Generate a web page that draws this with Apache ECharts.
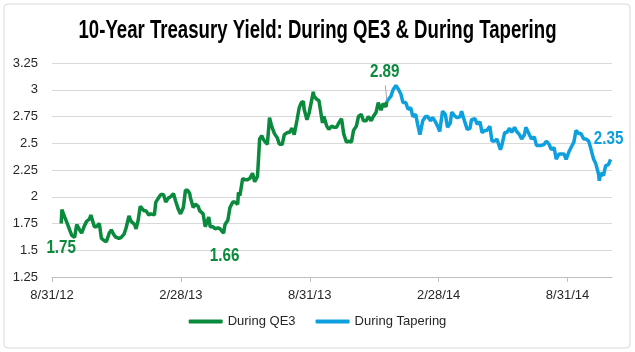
<!DOCTYPE html>
<html>
<head>
<meta charset="utf-8">
<script src="https://cdn.jsdelivr.net/npm/echarts@6/dist/echarts.min.js"></script>
<style>
  html, body { margin: 0; padding: 0; background: #fff; }
  #chart { width: 635px; height: 352px; }
</style>
</head>
<body>
<div id="chart"></div>
<script>
// 10年期国债收益率（日期 + 数值）
const qe3Dates = [
  '2012-09-13','2012-09-14','2012-09-18','2012-09-21','2012-09-25','2012-09-28','2012-10-02','2012-10-05',
  '2012-10-10','2012-10-12','2012-10-16','2012-10-19','2012-10-23','2012-10-25','2012-10-30','2012-11-02',
  '2012-11-06','2012-11-09','2012-11-13','2012-11-16','2012-11-20','2012-11-23','2012-11-27','2012-11-30',
  '2012-12-04','2012-12-07','2012-12-11','2012-12-14','2012-12-18','2012-12-21','2012-12-26','2012-12-28',
  '2012-12-31','2013-01-03','2013-01-08','2013-01-11','2013-01-15','2013-01-18','2013-01-23','2013-01-25',
  '2013-01-29','2013-02-01','2013-02-05','2013-02-08','2013-02-12','2013-02-15','2013-02-19','2013-02-22',
  '2013-02-26','2013-02-28','2013-03-01','2013-03-05','2013-03-08','2013-03-11','2013-03-14','2013-03-15',
  '2013-03-19','2013-03-22','2013-03-26','2013-03-28','2013-04-02','2013-04-05','2013-04-10','2013-04-12',
  '2013-04-16','2013-04-19','2013-04-23','2013-04-26','2013-05-01','2013-05-03','2013-05-07','2013-05-10',
  '2013-05-14','2013-05-17','2013-05-21','2013-05-22','2013-05-24','2013-05-28','2013-05-31','2013-06-04',
  '2013-06-07','2013-06-11','2013-06-14','2013-06-18','2013-06-20','2013-06-21','2013-06-24','2013-06-26',
  '2013-06-28','2013-07-02','2013-07-05','2013-07-08','2013-07-12','2013-07-16','2013-07-19','2013-07-23',
  '2013-07-26','2013-07-30','2013-08-02','2013-08-06','2013-08-09','2013-08-13','2013-08-16','2013-08-19',
  '2013-08-22','2013-08-23','2013-08-27','2013-08-30','2013-09-05','2013-09-06','2013-09-10','2013-09-13',
  '2013-09-18','2013-09-20','2013-09-24','2013-09-27','2013-10-01','2013-10-04','2013-10-08','2013-10-11',
  '2013-10-15','2013-10-18','2013-10-22','2013-10-25','2013-10-29','2013-11-01','2013-11-05','2013-11-08',
  '2013-11-12','2013-11-15','2013-11-19','2013-11-22','2013-11-26','2013-11-29','2013-12-03','2013-12-06',
  '2013-12-10','2013-12-13','2013-12-17','2013-12-18'
];
const qe3Values = [
  1.75, 1.88, 1.81, 1.76, 1.69, 1.64, 1.62, 1.74,
  1.68, 1.66, 1.73, 1.77, 1.79, 1.83, 1.72, 1.72,
  1.75, 1.61, 1.59, 1.58, 1.66, 1.69, 1.64, 1.62,
  1.61, 1.62, 1.65, 1.71, 1.82, 1.77, 1.74, 1.70,
  1.78, 1.91, 1.87, 1.87, 1.83, 1.84, 1.83, 1.95,
  1.99, 2.02, 2.02, 1.95, 1.99, 2.00, 2.03, 1.96,
  1.88, 1.89, 1.84, 1.90, 2.06, 2.06, 2.03, 1.99,
  1.90, 1.93, 1.91, 1.87, 1.84, 1.72, 1.81, 1.72,
  1.72, 1.70, 1.71, 1.70, 1.66, 1.74, 1.78, 1.90,
  1.95, 1.95, 1.93, 2.04, 2.01, 2.17, 2.16, 2.16,
  2.17, 2.22, 2.14, 2.19, 2.42, 2.54, 2.57, 2.54,
  2.52, 2.49, 2.74, 2.66, 2.59, 2.55, 2.49, 2.49,
  2.58, 2.60, 2.60, 2.64, 2.58, 2.72, 2.83, 2.88,
  2.89, 2.82, 2.72, 2.78, 2.98, 2.94, 2.91, 2.90,
  2.69, 2.75, 2.66, 2.63, 2.66, 2.65, 2.65, 2.69,
  2.73, 2.59, 2.51, 2.52, 2.51, 2.62, 2.66, 2.75,
  2.77, 2.71, 2.71, 2.75, 2.71, 2.75, 2.79, 2.88,
  2.81, 2.87, 2.84, 2.89
];
const taperDates = [
  '2013-12-18','2013-12-20','2013-12-24','2013-12-27','2013-12-31','2014-01-03','2014-01-07','2014-01-09',
  '2014-01-10','2014-01-14','2014-01-17','2014-01-21','2014-01-24','2014-01-28','2014-01-31','2014-02-03',
  '2014-02-07','2014-02-11','2014-02-14','2014-02-18','2014-02-21','2014-02-25','2014-02-28','2014-03-03',
  '2014-03-07','2014-03-11','2014-03-14','2014-03-18','2014-03-20','2014-03-25','2014-03-28','2014-04-01',
  '2014-04-03','2014-04-08','2014-04-11','2014-04-15','2014-04-17','2014-04-22','2014-04-25','2014-04-29',
  '2014-05-02','2014-05-06','2014-05-09','2014-05-13','2014-05-16','2014-05-20','2014-05-23','2014-05-28',
  '2014-05-30','2014-06-03','2014-06-06','2014-06-10','2014-06-13','2014-06-17','2014-06-20','2014-06-24',
  '2014-06-27','2014-07-01','2014-07-03','2014-07-08','2014-07-11','2014-07-15','2014-07-18','2014-07-22',
  '2014-07-25','2014-07-29','2014-08-01','2014-08-05','2014-08-08','2014-08-12','2014-08-15','2014-08-19',
  '2014-08-22','2014-08-26','2014-08-29','2014-09-02','2014-09-05','2014-09-09','2014-09-12','2014-09-16',
  '2014-09-19','2014-09-23','2014-09-26','2014-09-30','2014-10-03','2014-10-07','2014-10-10','2014-10-14',
  '2014-10-15','2014-10-17','2014-10-21','2014-10-24','2014-10-28','2014-10-31'
];
const taperValues = [
  2.89, 2.89, 2.94, 3.00, 3.04, 3.01, 2.96, 2.97,
  2.88, 2.88, 2.82, 2.83, 2.75, 2.77, 2.67, 2.58,
  2.71, 2.75, 2.75, 2.71, 2.74, 2.70, 2.66, 2.61,
  2.80, 2.77, 2.65, 2.69, 2.79, 2.75, 2.74, 2.75,
  2.80, 2.69, 2.63, 2.64, 2.72, 2.73, 2.68, 2.70,
  2.60, 2.62, 2.62, 2.66, 2.52, 2.52, 2.54, 2.44,
  2.48, 2.60, 2.60, 2.64, 2.60, 2.65, 2.61, 2.58,
  2.54, 2.58, 2.65, 2.58, 2.54, 2.56, 2.48, 2.48,
  2.48, 2.49, 2.52, 2.49, 2.44, 2.46, 2.35, 2.40,
  2.40, 2.40, 2.35, 2.42, 2.46, 2.51, 2.62, 2.59,
  2.59, 2.54, 2.54, 2.52, 2.45, 2.35, 2.31, 2.21,
  2.15, 2.22, 2.20, 2.29, 2.30, 2.35
];
const tickLabels = ['8/31/12', '2/28/13', '8/31/13', '2/28/14', '8/31/14'];
const seriesNames = ['During QE3', 'During Tapering'];
const titleText = '10-Year Treasury Yield: During QE3 & During Tapering';

const GREEN = '#0A8A3C';
const BLUE = '#0EA0DE';
const FONT = "'Liberation Sans', Arial, sans-serif";

// 以 8/31/12 为 0 的天数
const BASE = Date.UTC(2012, 7, 31);
const dayOf = s => {
  const [y, m, d] = s.split('-').map(Number);
  return (Date.UTC(y, m - 1, d) - BASE) / 86400000;
};
const toPairs = (dates, vals) => dates.map((d, i) => [dayOf(d), vals[i]]);

const qe3Data = toPairs(qe3Dates, qe3Values);
const taperData = toPairs(taperDates, taperValues);

const firstQe3 = qe3Data[0];
const lowQe3 = qe3Data[qe3Dates.indexOf('2013-05-01')];
const lastQe3 = qe3Data[qe3Data.length - 1];
const lastTaper = taperData[taperData.length - 1];

// 原图文字是压窄的，用 scaleX 模拟
const measure = (font, text) => {
  const ctx = document.createElement('canvas').getContext('2d');
  ctx.font = font;
  return ctx.measureText(text).width;
};
const titleScale = 478 / measure("bold 26px 'Liberation Sans'", titleText);

const chart = echarts.init(document.getElementById('chart'));
chart.setOption({
  backgroundColor: '#fff',
  animation: false,
  legend: {
    data: seriesNames, bottom: 19, left: 'center',
    icon: 'roundRect', itemWidth: 34, itemHeight: 4, itemGap: 20,
    textStyle: { fontFamily: FONT, fontSize: 13, color: '#262626' }
  },
  grid: { left: 52, right: 23, top: 63, bottom: 75, containLabel: false },
  xAxis: {
    type: 'value', min: 0, max: 793, interval: 182.5,
    axisLine: { lineStyle: { color: '#bfbfbf' } },
    axisTick: { show: true, length: 5, lineStyle: { color: '#bfbfbf' } },
    axisLabel: {
      fontFamily: FONT, fontSize: 13, color: '#262626', margin: 12,
      showMaxLabel: false,
      formatter: v => tickLabels[Math.round(v / 182.5)] || ''
    },
    splitLine: { show: false }
  },
  yAxis: {
    type: 'value', min: 1.25, max: 3.25, interval: 0.25,
    axisLine: { show: false }, axisTick: { show: false },
    axisLabel: { fontFamily: FONT, fontSize: 13, color: '#262626', margin: 14 },
    splitLine: { lineStyle: { color: '#d9d9d9', width: 1 } }
  },
  series: [
    {
      name: seriesNames[0], type: 'line', data: qe3Data, showSymbol: false,
      lineStyle: { color: GREEN, width: 3.5 }, itemStyle: { color: GREEN }, z: 3,
      markLine: {
        silent: true, symbol: 'none', label: { show: false },
        lineStyle: { color: '#a6a6a6', width: 1, type: 'solid' },
        data: [[
          { coord: [lastQe3[0], lastQe3[1] + 0.02] },
          { coord: [lastQe3[0] - 2, lastQe3[1] + 0.15] }
        ]]
      }
    },
    {
      name: seriesNames[1], type: 'line', data: taperData, showSymbol: false,
      lineStyle: { color: BLUE, width: 3.5 }, itemStyle: { color: BLUE }, z: 2
    }
  ]
});

// 数据标注：按数据点换算像素位置
const annotations = [
  { pt: firstQe3, color: GREEN, dx: 0, dy: 24 },
  { pt: lowQe3, color: GREEN, dx: 1, dy: 23 },
  { pt: lastQe3, color: GREEN, dx: -2, dy: -30 },
  { pt: lastTaper, color: BLUE, dx: -2, dy: -21 }
];
const annoGraphics = annotations.map(a => {
  const [px, py] = chart.convertToPixel({ gridIndex: 0 }, a.pt);
  return {
    type: 'text', x: px + a.dx, y: py + a.dy, scaleX: 0.8, z: 10,
    style: {
      text: a.pt[1].toFixed(2), fill: a.color, font: "bold 19px 'Liberation Sans'",
      textAlign: 'center', textVerticalAlign: 'middle'
    }
  };
});

chart.setOption({
  graphic: [
    {
      type: 'rect', shape: { x: 4, y: 4, width: 626, height: 344, r: 4 },
      style: { fill: 'none', stroke: '#d9d9d9', lineWidth: 1 }, silent: true, z: -1
    },
    {
      type: 'text', x: 317.5, y: 30.5, scaleX: titleScale, z: 10,
      style: {
        text: titleText, fill: '#000', font: "bold 26px 'Liberation Sans'",
        textAlign: 'center', textVerticalAlign: 'middle'
      }
    }
  ].concat(annoGraphics)
});
</script>
</body>
</html>
